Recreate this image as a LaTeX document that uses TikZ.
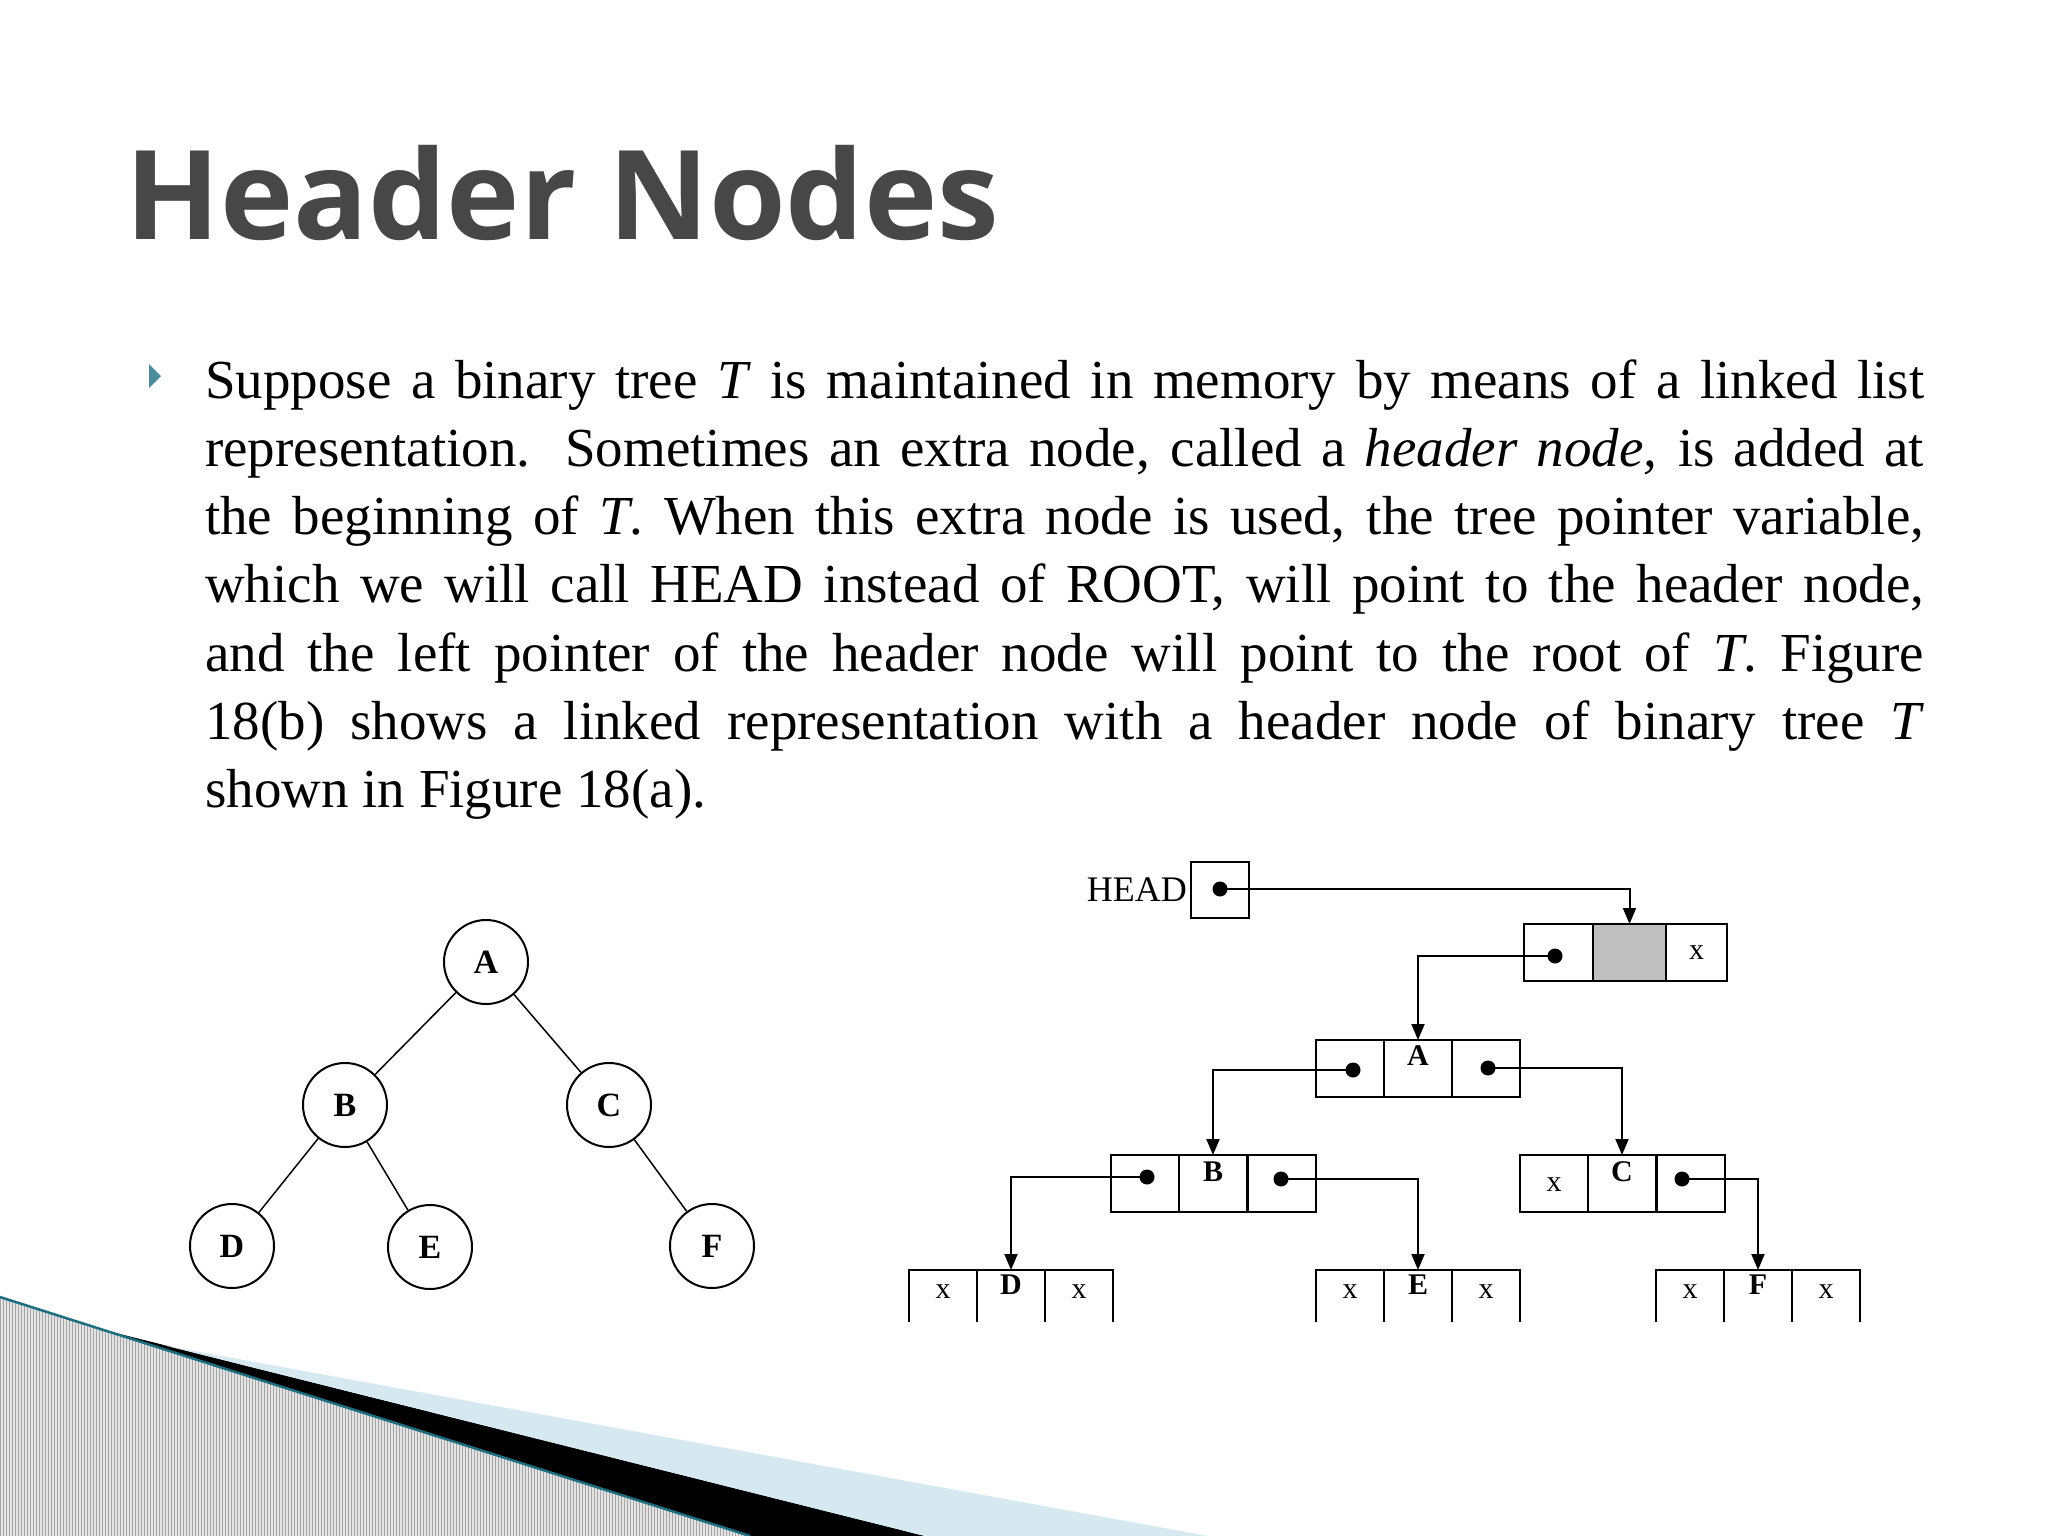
\documentclass[tikz,border=0pt]{standalone}
\usepackage{fontspec}
\setmainfont{Liberation Serif}
\newfontfamily\titlefont{Open Sans}
\usetikzlibrary{patterns,arrows.meta}
\definecolor{teal1}{RGB}{30,110,130}
\definecolor{lblue}{RGB}{214,232,240}
\tikzset{
 cell/.style={draw,line width=2pt,minimum width=68pt,minimum height=57pt,inner sep=0,outer sep=0},
 leaf/.style={minimum width=68pt,minimum height=52pt,inner sep=0,outer sep=0},
 dotn/.style={circle,fill,inner sep=0,minimum size=15pt},
 arr/.style={line width=2pt,-{Triangle[length=16pt,width=13pt]}},
 tn/.style={circle,draw,line width=2pt,minimum size=84pt,inner sep=0,font=\fontsize{34}{34}\selectfont\bfseries},
 lab/.style={font=\fontsize{30}{30}\selectfont\bfseries},
 xm/.style={font=\fontsize{30}{30}\selectfont}
}
\begin{document}
\begin{tikzpicture}[x=1pt,y=-1pt]
\useasboundingbox (0,0) rectangle (2048,1536);
\fill[white] (0,0) rectangle (2048,1536);
% decoration
\fill[gray!22] (0,1297)--(750,1536)--(0,1536)--cycle;
\fill[pattern=vertical lines,pattern color=gray!70] (0,1297)--(750,1536)--(0,1536)--cycle;
\fill[black] (108,1331)--(925,1536)--(750,1536)--cycle;
\fill[lblue] (167,1346)--(1208,1536)--(925,1536)--cycle;
\draw[teal1,line width=2.5pt] (0,1297)--(750,1536);
% title
\node[anchor=base west,inner sep=0,text=black!72,font=\titlefont\fontsize{124}{124}\selectfont\bfseries] (title) at (125,239) {Header Nodes};
% bullet
\fill[teal1!80] (149,364)--(161,376)--(149,388)--cycle;
\node[anchor=base west,inner sep=0,text width=1719pt,align=justify,font=\fontsize{55}{68.3}\selectfont] (body) at (205,398) {Suppose a binary tree \textit{T} is maintained in memory by means of a linked list\linebreak
representation. Sometimes an extra node, called a \textit{header node,} is added at\linebreak
the beginning of \textit{T}. When this extra node is used, the tree pointer variable,\linebreak
which we will call HEAD instead of ROOT, will point to the header node,\linebreak
and the left pointer of the header node will point to the root of \textit{T}. Figure\linebreak
18(b) shows a linked representation with a header node of binary tree \textit{T}\linebreak
shown in Figure 18(a).};
% tree
\node[tn] (A) at (486,962) {A};
\node[tn] (B) at (345,1105) {B};
\node[tn] (C) at (609,1105) {C};
\node[tn] (D) at (232,1246) {D};
\node[tn] (E) at (430,1247) {E};
\node[tn] (F) at (712,1246) {F};
\draw[line width=1.5pt] (A)--(B) (A)--(C) (B)--(D) (B)--(E) (C)--(F);
% HEAD
\node[draw,line width=2pt,minimum width=58pt,minimum height=56pt,inner sep=0] (hbox) at (1220,890) {};
\node[anchor=east,inner sep=0,font=\fontsize{36}{36}\selectfont] (htext) at (1187,890) {HEAD};
\node[dotn] (hd) at (1220,889) {};
% header node
\node[cell,minimum width=69pt] (h1) at (1558.5,952.5) {};
\node[cell,minimum width=73pt,fill=gray!100!black!50] (h2) at (1629.5,952.5) {};
\node[cell,minimum width=61pt] (h3) at (1696.5,952.5) {};
\node[xm] (h3x) at (h3) {x};
\node[dotn] (h1d) at (1555,956) {};
% A
\node[cell] (a1) at (1350,1068.5) {};
\node[cell] (a2) at (1418,1068.5) {};
\node[cell] (a3) at (1485.5,1068.5) {};
\node[lab,anchor=north] (al) at (1418,1042) {A};
\node[dotn] (a1d) at (1353,1070) {};
\node[dotn] (a3d) at (1488,1068) {};
% B
\node[cell] (b1) at (1145,1183.5) {};
\node[cell] (b2) at (1213,1183.5) {};
\node[cell] (b3) at (1281.5,1183.5) {};
\node[lab,anchor=north] (bl) at (1213,1158) {B};
\node[dotn] (b1d) at (1147,1177) {};
\node[dotn] (b3d) at (1281,1179) {};
% C
\node[cell] (c1) at (1554,1183.5) {};
\node[cell] (c2) at (1622,1183.5) {};
\node[cell] (c3) at (1690.5,1183.5) {};
\node[xm] (c1x) at (1554,1185) {x};
\node[lab,anchor=north] (cl) at (1622,1158) {C};
\node[dotn] (c3d) at (1682,1179) {};
% leaves
\foreach \n/\x/\l in {d/909/D,e/1316/E,f/1656/F}{
  \node[leaf,anchor=north west] (\n1) at (\x,1270) {};
  \node[leaf,anchor=north west] (\n2) at (\x+68,1270) {};
  \node[leaf,anchor=north west] (\n3) at (\x+136,1270) {};
  \draw[line width=2pt] (\n1.south west)--(\n1.north west)--(\n3.north east)--(\n3.south east);
  \draw[line width=2pt] (\n2.north west)--(\n2.south west) (\n2.north east)--(\n2.south east);
  \node[xm] (\n1x) at ([yshift=4pt]\n1.center) {x};
  \node[xm] (\n3x) at ([yshift=4pt]\n3.center) {x};
  \node[lab,anchor=north] (\n2l) at ([yshift=-1pt]\n2.north) {\l};
}
% connectors
\draw[arr] (hd.center) -| (h2.north);
\draw[arr] (h1d.center) -| (a2.north);
\draw[arr] (a1d.center) -| (b2.north);
\draw[arr] (a3d.center) -| (c2.north);
\draw[arr] (b1d.center) -| (d2.north);
\draw[arr] (b3d.center) -| (e2.north);
\draw[arr] (c3d.center) -| (f2.north);
\end{tikzpicture}
\end{document}
